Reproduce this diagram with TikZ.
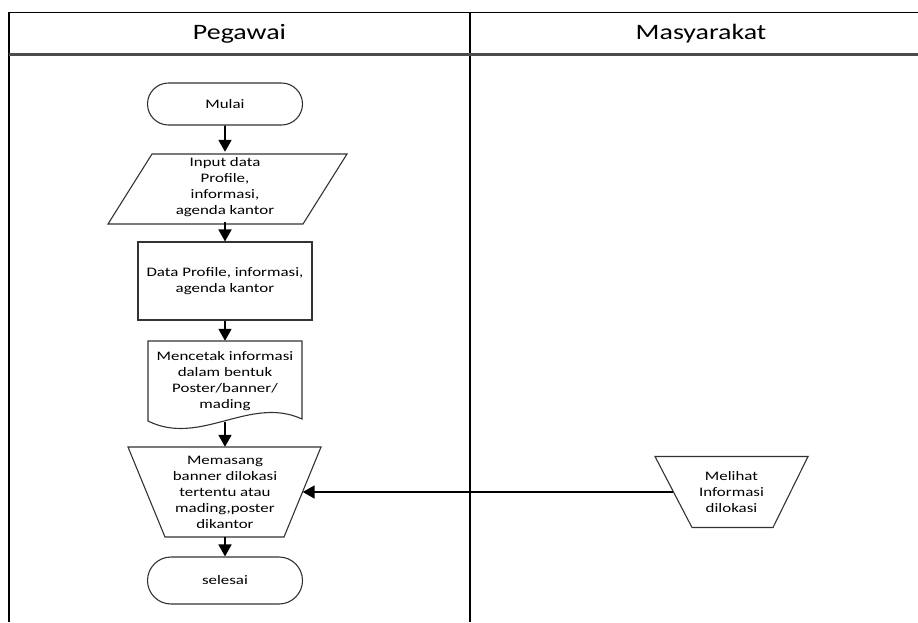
\documentclass[tikz,border=0pt]{standalone}
\usepackage{fontspec}
\setmainfont{Carlito}[FakeStretch=1.3]
\newfontfamily\headfont{Carlito}[FakeStretch=1.27]
\usetikzlibrary{arrows.meta,shapes.misc}

\begin{document}
\begin{tikzpicture}[x=1pt,y=-1pt,
  lane/.style={draw=black,line width=1.8pt},
  headtxt/.style={font=\headfont\fontsize{22}{26}\selectfont,inner sep=0pt},
  txt/.style={font=\fontsize{13}{16}\selectfont,align=center,inner sep=0pt},
  outline/.style={draw=black!80,line width=1.1pt,line join=miter},
  term/.style={txt,rounded rectangle,draw=black!80,line width=1.1pt},
  flow/.style={line width=1.8pt,-{Triangle[length=12pt,width=13pt]}}]

\useasboundingbox (0,0) rectangle (918,622);

% swimlane frame
\draw[lane] (918,12.5) -- (9,12.5) -- (9,622);
\draw[lane] (470,12.5) -- (470,622);
\draw[draw=black!70,line width=2.2pt] (9,54.5) -- (918,54.5);
\node[headtxt] (pegawai) at (239.5,33.5) {Pegawai};
\node[headtxt] (masyarakat) at (701,33.5) {Masyarakat};

% Pegawai lane
\node[term,minimum width=155pt,minimum height=42pt] (start) at (225,104) {Mulai};

\node[txt,minimum width=195pt,minimum height=70pt] (input) at (225,187)
  {Input data\\Profile,\\informasi,\\agenda kantor};
\draw[outline] (152,154) -- (347,154) -- (303,224) -- (108,224) -- cycle;

\node[txt,outline,minimum width=174pt,minimum height=78pt] (data) at (225,281)
  {Data Profile, informasi,\\agenda kantor};

\node[txt,minimum width=154pt,minimum height=81pt] (doc) at (225,381.5)
  {Mencetak informasi\\dalam bentuk\\Poster/banner/\\mading};
\draw[outline] (148,421) -- (148,341) -- (302,341) -- (302,419)
  .. controls (250,395) and (200,447) .. (148,421) -- cycle;

\node[txt,minimum width=155pt,minimum height=90pt] (manual) at (225,492)
  {Memasang\\banner dilokasi\\tertentu atau\\mading,poster\\dikantor};
\draw[outline] (128,447) -- (321,447) -- (284,537) -- (165,537) -- cycle;

\node[term,minimum width=155pt,minimum height=47pt] (end) at (225,580.5) {selesai};

% Masyarakat lane
\node[txt,minimum width=116pt,minimum height=71pt] (see) at (731.5,492)
  {Melihat\\Informasi\\dilokasi};
\draw[outline] (655,456.5) -- (808,456.5) -- (773,527.5) -- (692,527.5) -- cycle;

% connectors
\draw[flow] (start) -- (input);
\draw[flow] (input) -- (data);
\draw[flow] (data) -- (doc);
\draw[flow] (doc) -- (manual);
\draw[flow] (manual) -- (end);
\draw[flow] (see) -- (manual);
\end{tikzpicture}
\end{document}
